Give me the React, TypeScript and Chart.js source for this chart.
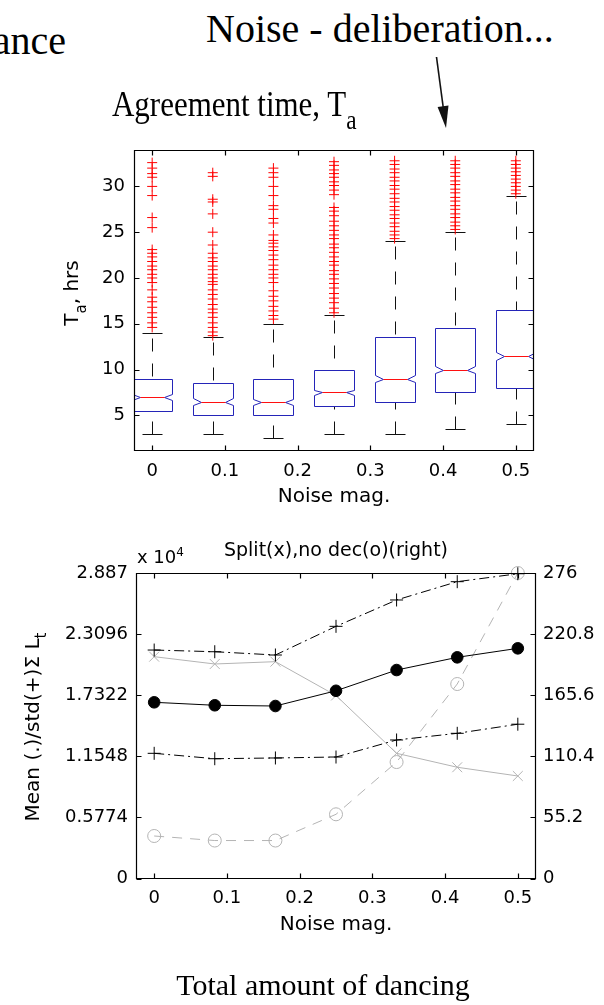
import React, { useEffect, useRef } from "react";
import { Chart, registerables } from "chart.js";

Chart.register(...registerables);

// ---------------- Top panel: Agreement time (notched box plots) ----------------
const noiseLevels = [0, 0.0833, 0.1667, 0.25, 0.3333, 0.4167, 0.5];
const noiseTicks = [0, 0.1, 0.2, 0.3, 0.4, 0.5];
const agreementTicks = [5, 10, 15, 20, 25, 30];

const whiskerLow = [3.0, 3.0, 2.55, 3.0, 3.0, 3.55, 4.0];
const quartile1 = [5.5, 5.0, 5.0, 6.0, 6.5, 7.5, 8.0];
const medians = [7.0, 6.5, 6.5, 7.5, 9.0, 10.0, 11.5];
const quartile3 = [9.0, 8.5, 9.0, 10.0, 13.5, 14.5, 16.5];
const whiskerHigh = [14.0, 13.5, 15.0, 16.0, 24.0, 25.0, 29.0];
const notchHalfHeight = [0.3, 0.4, 0.33, 0.27, 0.4, 0.4, 0.43];

const outliers0 = [32.6, 32.0, 31.4, 31.0, 30.0, 29.0, 26.6, 25.5, 23.1, 22.7, 22.3, 21.8, 21.3, 20.9, 20.4, 20.0, 19.5, 18.7, 17.9, 17.4, 16.8, 16.2, 15.7, 15.1, 14.6];
const outliers1 = [31.5, 31.1, 28.6, 28.3, 27.0, 25.0, 23.6, 22.7, 22.2, 21.8, 21.3, 20.9, 20.4, 20.0, 19.6, 19.3, 18.7, 18.2, 17.7, 17.1, 16.6, 16.2, 15.7, 15.1, 14.6, 14.1, 13.7];
const outliers2 = [32.0, 31.5, 31.0, 30.0, 29.0, 27.9, 27.5, 26.5, 26.0, 24.7, 24.1, 23.8, 23.4, 23.0, 22.5, 22.0, 21.4, 20.9, 20.4, 20.0, 19.5, 18.6, 18.0, 17.5, 16.9, 16.4, 15.9, 15.5];
const outliers3 = [32.7, 32.3, 31.8, 31.4, 31.0, 30.5, 30.1, 29.6, 29.1, 27.7, 27.3, 26.8, 26.2, 25.7, 25.2, 24.7, 24.3, 23.7, 23.3, 22.8, 22.3, 21.8, 21.4, 20.8, 20.4, 19.9, 19.4, 18.9, 18.3, 17.8, 17.3, 16.7, 16.2];
const outliers4 = [32.8, 32.4, 31.9, 31.5, 31.0, 30.6, 30.1, 29.7, 29.2, 28.7, 28.3, 27.8, 27.4, 26.9, 26.5, 26.0, 25.6, 25.1, 24.7, 24.3];
const outliers5 = [32.8, 32.4, 32.0, 31.5, 31.1, 30.6, 30.2, 29.7, 29.3, 28.8, 28.4, 27.9, 27.5, 27.0, 26.6, 26.1, 25.7, 25.3];
const outliers6 = [32.8, 32.4, 32.0, 31.6, 31.2, 30.8, 30.4, 30.0, 29.6, 29.2];
const outlierGroups = [outliers0, outliers1, outliers2, outliers3, outliers4, outliers5, outliers6];

// ---------------- Bottom panel: total amount of dancing ----------------
const leftTicks = [0, 5774, 11548, 17322, 23096, 28870];
const rightTicks = [0, 55.2, 110.4, 165.6, 220.8, 276];
const meanDancing = [16650, 16370, 16300, 17740, 19700, 20900, 21750];
const meanPlusStd = [21590, 21430, 21120, 23830, 26320, 28050, 28800];
const meanMinusStd = [11830, 11320, 11390, 11480, 13090, 13720, 14580];
const splitCount = [200.4, 193.8, 195.9, 165.3, 113.1, 100.5, 92.6];
const noDecisionCount = [38.4, 34.3, 34.3, 58.0, 105.2, 175.7, 276];

// ---------------- styling ----------------
const SANS = "'DejaVu Sans', sans-serif";
const SERIF = "'Liberation Serif', 'Times New Roman', serif";
const TICK_LEN = 5;
const BOX_HALF = 20;
const NOTCH_INSET = 8;
const CAP_HALF = 10;
const BOX_BLUE = "#2424b8";
const GRAY = "#b4b4b4";

const fmtNoise = (v: number) => (v === 0 ? "0" : v.toFixed(1));

const framePlugin = {
  id: "matlabFrame",
  afterDraw(chart: any) {
    const { ctx, chartArea: a } = chart;
    const L = Math.round(a.left) + 0.5;
    const R = Math.round(a.right) - 0.5;
    const T = Math.round(a.top) + 0.5;
    const B = Math.round(a.bottom) - 0.5;
    ctx.save();
    ctx.strokeStyle = "#000";
    ctx.lineWidth = 1.2;
    ctx.setLineDash([]);
    ctx.beginPath();
    ctx.rect(L, T, R - L, B - T);
    const seg = (x1: number, y1: number, x2: number, y2: number) => {
      ctx.moveTo(x1, y1);
      ctx.lineTo(x2, y2);
    };
    const xs = chart.scales.x;
    xs.ticks.forEach((t: any) => {
      const px = Math.round(xs.getPixelForValue(t.value)) + 0.5;
      seg(px, B, px, B - TICK_LEN);
      seg(px, T, px, T + TICK_LEN);
    });
    const ys = chart.scales.y;
    const y2 = chart.scales.y2;
    ys.ticks.forEach((t: any) => {
      const py = Math.round(ys.getPixelForValue(t.value)) + 0.5;
      seg(L, py, L + TICK_LEN, py);
      if (!y2) seg(R, py, R - TICK_LEN, py);
    });
    if (y2) {
      y2.ticks.forEach((t: any) => {
        const py = Math.round(y2.getPixelForValue(t.value)) + 0.5;
        seg(R, py, R - TICK_LEN, py);
      });
    }
    ctx.stroke();
    ctx.restore();
  },
};

const boxPlugin = {
  id: "notchedBoxes",
  beforeDatasetsDraw(chart: any) {
    const { ctx, chartArea: a, scales } = chart;
    const xs = scales.x;
    const ys = scales.y;
    ctx.save();
    ctx.beginPath();
    ctx.rect(a.left, a.top, a.right - a.left, a.bottom - a.top);
    ctx.clip();
    noiseLevels.forEach((lvl, i) => {
      const cx = Math.round(xs.getPixelForValue(lvl)) + 0.5;
      const py = (v: number) => Math.round(ys.getPixelForValue(v)) + 0.5;
      const yLw = py(whiskerLow[i]);
      const yQ1 = py(quartile1[i]);
      const yMed = py(medians[i]);
      const yQ3 = py(quartile3[i]);
      const yUw = py(whiskerHigh[i]);
      const yNTop = py(medians[i] + notchHalfHeight[i]);
      const yNBot = py(medians[i] - notchHalfHeight[i]);

      // whiskers (dashed)
      ctx.strokeStyle = "#111";
      ctx.lineWidth = 1;
      ctx.setLineDash([13, 12]);
      ctx.lineDashOffset = 20;
      ctx.beginPath();
      ctx.moveTo(cx, yUw);
      ctx.lineTo(cx, yQ3);
      ctx.stroke();
      ctx.lineDashOffset = 0;
      ctx.beginPath();
      ctx.moveTo(cx, yLw);
      ctx.lineTo(cx, yQ1);
      ctx.stroke();
      ctx.setLineDash([]);
      // caps
      ctx.beginPath();
      ctx.moveTo(cx - CAP_HALF, yUw);
      ctx.lineTo(cx + CAP_HALF, yUw);
      ctx.moveTo(cx - CAP_HALF, yLw);
      ctx.lineTo(cx + CAP_HALF, yLw);
      ctx.stroke();

      // notched box
      ctx.strokeStyle = BOX_BLUE;
      ctx.beginPath();
      ctx.moveTo(cx - BOX_HALF, yQ3);
      ctx.lineTo(cx + BOX_HALF, yQ3);
      ctx.lineTo(cx + BOX_HALF, yNTop);
      ctx.lineTo(cx + BOX_HALF - NOTCH_INSET, yMed);
      ctx.lineTo(cx + BOX_HALF, yNBot);
      ctx.lineTo(cx + BOX_HALF, yQ1);
      ctx.lineTo(cx - BOX_HALF, yQ1);
      ctx.lineTo(cx - BOX_HALF, yNBot);
      ctx.lineTo(cx - BOX_HALF + NOTCH_INSET, yMed);
      ctx.lineTo(cx - BOX_HALF, yNTop);
      ctx.closePath();
      ctx.stroke();

      // median
      ctx.strokeStyle = "#ff1010";
      ctx.beginPath();
      ctx.moveTo(cx - BOX_HALF + NOTCH_INSET, yMed);
      ctx.lineTo(cx + BOX_HALF - NOTCH_INSET, yMed);
      ctx.stroke();
    });
    ctx.restore();
  },
};

const tickFont = { family: SANS, size: 18 };
const titleFont = { family: SANS, size: 20 };

function xAxis(height: number, tickPad: number, titleBottom: number) {
  return {
    type: "linear",
    position: "bottom",
    min: -0.025,
    max: 0.525,
    afterBuildTicks: (s: any) => {
      s.ticks = noiseTicks.map((v) => ({ value: v }));
    },
    afterFit: (s: any) => {
      s.height = height;
    },
    grid: { display: false, drawTicks: false },
    border: { display: false },
    ticks: {
      color: "#000",
      font: tickFont,
      padding: tickPad,
      autoSkip: false,
      maxRotation: 0,
      callback: (v: any) => fmtNoise(Number(v)),
    },
    title: {
      display: true,
      text: "Noise mag.",
      color: "#000",
      font: titleFont,
      padding: { top: 0, bottom: titleBottom },
    },
  };
}

function topConfig(): any {
  const outlierPoints = outlierGroups.flatMap((arr, i) => arr.map((v) => ({ x: noiseLevels[i], y: v })));
  return {
    type: "scatter",
    data: {
      datasets: [
        {
          label: "Outliers",
          data: outlierPoints,
          pointStyle: "cross",
          pointRadius: 5,
          pointBorderWidth: 1,
          pointBorderColor: "#ff0000",
          pointBackgroundColor: "#ff0000",
          showLine: false,
        },
      ],
    },
    options: {
      responsive: false,
      animation: false,
      events: [],
      layout: { padding: { top: 15, right: 70, left: 0, bottom: 0 } },
      plugins: { legend: { display: false }, tooltip: { enabled: false } },
      scales: {
        x: xAxis(69, 10, 11),
        y: {
          type: "linear",
          min: 1.1,
          max: 34.0,
          afterBuildTicks: (s: any) => {
            s.ticks = agreementTicks.map((v) => ({ value: v }));
          },
          afterFit: (s: any) => {
            s.width = 134;
          },
          grid: { display: false, drawTicks: false },
          border: { display: false },
          ticks: { color: "#000", font: tickFont, padding: 9, callback: (v: any) => String(v) },
        },
      },
    },
    plugins: [boxPlugin, framePlugin],
  };
}

function bottomConfig(): any {
  const pts = (ys: number[]) => noiseLevels.map((x, i) => ({ x, y: ys[i] }));
  return {
    type: "scatter",
    data: {
      datasets: [
        {
          label: "Mean",
          data: pts(meanDancing),
          yAxisID: "y",
          showLine: true,
          borderColor: "#000",
          borderWidth: 1,
          pointStyle: "circle",
          pointRadius: 5.8,
          pointBorderColor: "#000",
          pointBackgroundColor: "#000",
          clip: false,
        },
        {
          label: "Mean + std",
          data: pts(meanPlusStd),
          yAxisID: "y",
          showLine: true,
          borderColor: "#000",
          borderWidth: 1,
          borderDash: [10, 4, 2, 4],
          pointStyle: "cross",
          pointRadius: 6.5,
          pointBorderWidth: 1,
          pointBorderColor: "#000",
          pointBackgroundColor: "#000",
          clip: false,
        },
        {
          label: "Mean - std",
          data: pts(meanMinusStd),
          yAxisID: "y",
          showLine: true,
          borderColor: "#000",
          borderWidth: 1,
          borderDash: [10, 4, 2, 4],
          pointStyle: "cross",
          pointRadius: 6.5,
          pointBorderWidth: 1,
          pointBorderColor: "#000",
          pointBackgroundColor: "#000",
          clip: false,
        },
        {
          label: "Split",
          data: pts(splitCount),
          yAxisID: "y2",
          showLine: true,
          borderColor: GRAY,
          borderWidth: 1,
          pointStyle: "crossRot",
          pointRadius: 7,
          pointBorderWidth: 1,
          pointBorderColor: GRAY,
          pointBackgroundColor: GRAY,
          clip: false,
        },
        {
          label: "No decision",
          data: pts(noDecisionCount),
          yAxisID: "y2",
          showLine: true,
          borderColor: GRAY,
          borderWidth: 1,
          borderDash: [10, 8],
          pointStyle: "circle",
          pointRadius: 6.5,
          pointBorderWidth: 1,
          pointBorderColor: GRAY,
          pointBackgroundColor: "rgba(0,0,0,0)",
          clip: false,
        },
      ],
    },
    options: {
      responsive: false,
      animation: false,
      events: [],
      layout: { padding: { top: 0, right: 0, left: 0, bottom: 0 } },
      plugins: {
        legend: { display: false },
        tooltip: { enabled: false },
        title: {
          display: true,
          text: "Split(x),no dec(o)(right)",
          color: "#000",
          fullSize: false,
          font: { family: SANS, size: 19, weight: "normal" },
          padding: { top: 0, bottom: 10.2 },
        },
      },
      scales: {
        x: xAxis(71.5, 9, 13.5),
        y: {
          type: "linear",
          position: "left",
          min: 0,
          max: 28870,
          afterBuildTicks: (s: any) => {
            s.ticks = leftTicks.map((v) => ({ value: v }));
          },
          afterFit: (s: any) => {
            s.width = 136;
          },
          grid: { display: false, drawTicks: false },
          border: { display: false },
          ticks: {
            color: "#000",
            font: tickFont,
            padding: 8,
            callback: (v: any) => String(+(Number(v) / 10000).toFixed(4)),
          },
        },
        y2: {
          type: "linear",
          position: "right",
          min: 0,
          max: 276,
          afterBuildTicks: (s: any) => {
            s.ticks = rightTicks.map((v) => ({ value: v }));
          },
          afterFit: (s: any) => {
            s.width = 68;
          },
          grid: { display: false, drawTicks: false },
          border: { display: false },
          ticks: {
            color: "#000",
            font: tickFont,
            padding: 7,
            callback: (v: any) => String(+Number(v).toFixed(1)),
          },
        },
      },
    },
    plugins: [framePlugin],
  };
}

const abs = (extra: React.CSSProperties): React.CSSProperties => ({
  position: "absolute",
  whiteSpace: "nowrap",
  color: "#000",
  margin: 0,
  ...extra,
});

export default function App() {
  const topRef = useRef<HTMLCanvasElement>(null);
  const bottomRef = useRef<HTMLCanvasElement>(null);

  useEffect(() => {
    const c1 = new Chart(topRef.current as HTMLCanvasElement, topConfig());
    const c2 = new Chart(bottomRef.current as HTMLCanvasElement, bottomConfig());
    return () => {
      c1.destroy();
      c2.destroy();
    };
  }, []);

  return (
    <div
      style={{
        position: "absolute",
        left: 0,
        top: 0,
        width: 604,
        height: 1005,
        overflow: "hidden",
        background: "#fff",
      }}
    >
      <canvas ref={topRef} width={604} height={390} style={{ position: "absolute", left: 0, top: 130 }} />
      <canvas ref={bottomRef} width={604} height={410} style={{ position: "absolute", left: 0, top: 540 }} />

      {/* figure-level serif annotations */}
      <div style={abs({ right: 538, top: 20.5, font: `40px ${SERIF}`, lineHeight: "40px" })}>ance</div>
      <div style={abs({ left: 206, top: 9, font: `40px ${SERIF}`, lineHeight: "40px" })}>Noise - deliberation...</div>
      <div
        style={abs({
          left: 112,
          top: 86,
          font: `36px ${SERIF}`,
          lineHeight: "36px",
          transform: "scaleX(0.86)",
          transformOrigin: "left center",
        })}
      >
        Agreement time, T
        <span style={{ fontSize: 27, verticalAlign: -13, lineHeight: 0 }}>a</span>
      </div>
      <svg width={604} height={1005} style={{ position: "absolute", left: 0, top: 0, pointerEvents: "none" }}>
        <line x1={436.5} y1={57} x2={443.3} y2={108} stroke="#111" strokeWidth={1.6} />
        <polygon points="446,128 448.5,105.5 437.6,106.9" fill="#111" />
      </svg>
      <div style={abs({ left: 323, top: 970, font: `30px ${SERIF}`, lineHeight: "30px", transform: "translateX(-50%)" })}>
        Total amount of dancing
      </div>

      {/* axis labels */}
      <div
        style={abs({
          left: 71.4,
          top: 293,
          font: `20px ${SANS}`,
          lineHeight: "20px",
          transform: "translate(-50%, -50%) rotate(-90deg)",
        })}
      >
        T<span style={{ fontSize: 15, verticalAlign: -8, lineHeight: 0 }}>a</span>, hrs
      </div>
      <div
        style={abs({
          left: 32,
          top: 726.7,
          font: `20px ${SANS}`,
          lineHeight: "20px",
          transform: "translate(-50%, -50%) rotate(-90deg)",
        })}
      >
        Mean (.)/std(+)Σ L<span style={{ fontSize: 15, verticalAlign: -7, lineHeight: 0 }}>t</span>
      </div>
      <div style={abs({ left: 137, top: 547.5, font: `18px ${SANS}`, lineHeight: "18px" })}>
        x 10<span style={{ fontSize: 12, verticalAlign: 7, lineHeight: 0 }}>4</span>
      </div>
    </div>
  );
}
